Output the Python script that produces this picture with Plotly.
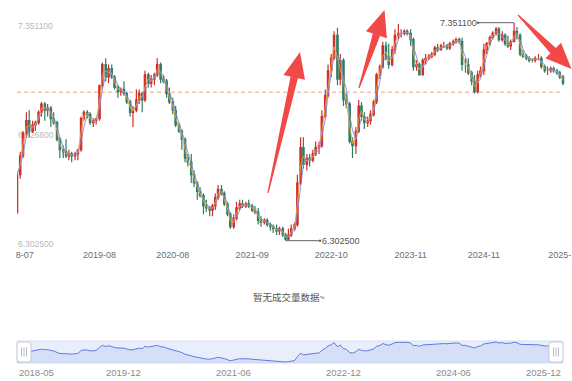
import plotly.graph_objects as go
import pandas as pd

# ---------------- data (semi-monthly OHLC) ----------------
open_2018 = [6.44, 6.62, 6.71, 6.82, 6.88, 6.83, 6.86, 6.87, 6.92, 6.96, 6.93, 6.94, 6.89]
high_2018 = [6.63, 6.73, 6.83, 6.92, 6.93, 6.88, 6.88, 6.93, 6.97, 6.97, 6.96, 6.95, 6.92]
low_2018 = [6.43, 6.60, 6.70, 6.80, 6.80, 6.82, 6.83, 6.86, 6.90, 6.88, 6.90, 6.85, 6.86]
close_2018 = [6.62, 6.71, 6.82, 6.88, 6.83, 6.86, 6.87, 6.92, 6.96, 6.93, 6.94, 6.89, 6.87]

open_2019 = [6.87, 6.79, 6.74, 6.73, 6.71, 6.72, 6.71, 6.72, 6.74, 6.89, 6.92, 6.91, 6.87, 6.88, 6.89, 7.05, 7.15, 7.09, 7.13, 7.09, 7.04, 7.02, 7.03, 7.01]
high_2019 = [6.88, 6.80, 6.76, 6.79, 6.74, 6.73, 6.73, 6.74, 6.90, 6.93, 6.93, 6.92, 6.89, 6.89, 7.05, 7.16, 7.18, 7.15, 7.15, 7.10, 7.05, 7.04, 7.07, 7.02]
low_2019 = [6.78, 6.70, 6.70, 6.70, 6.69, 6.68, 6.69, 6.69, 6.73, 6.88, 6.89, 6.86, 6.85, 6.86, 6.88, 7.03, 7.07, 7.06, 7.08, 7.03, 6.99, 7.00, 7.00, 6.96]
close_2019 = [6.79, 6.74, 6.73, 6.71, 6.72, 6.71, 6.72, 6.74, 6.89, 6.92, 6.91, 6.87, 6.88, 6.89, 7.05, 7.15, 7.09, 7.13, 7.09, 7.04, 7.02, 7.03, 7.01, 6.97]

open_2020 = [6.97, 6.92, 6.93, 6.98, 7.01, 6.98, 7.10, 7.06, 7.08, 7.10, 7.15, 7.08, 7.07, 7.01, 6.97, 6.93, 6.86, 6.83, 6.79, 6.70, 6.68, 6.62, 6.58, 6.54]
high_2020 = [6.98, 6.95, 7.03, 7.03, 7.02, 7.12, 7.11, 7.10, 7.11, 7.18, 7.16, 7.10, 7.08, 7.04, 6.99, 6.95, 6.87, 6.84, 6.80, 6.72, 6.72, 6.64, 6.59, 6.56]
low_2020 = [6.90, 6.85, 6.92, 6.96, 6.92, 6.97, 7.04, 7.04, 7.05, 7.09, 7.06, 7.06, 6.99, 6.96, 6.91, 6.85, 6.82, 6.74, 6.68, 6.66, 6.58, 6.56, 6.50, 6.51]
close_2020 = [6.92, 6.93, 6.98, 7.01, 6.98, 7.10, 7.06, 7.08, 7.10, 7.15, 7.08, 7.07, 7.01, 6.97, 6.93, 6.86, 6.83, 6.79, 6.70, 6.68, 6.62, 6.58, 6.54, 6.52]

open_2021 = [6.52, 6.47, 6.46, 6.45, 6.47, 6.51, 6.55, 6.53, 6.48, 6.43, 6.37, 6.41, 6.46, 6.48, 6.47, 6.48, 6.47, 6.45, 6.44, 6.40, 6.39, 6.40, 6.38, 6.37]
high_2021 = [6.53, 6.50, 6.47, 6.48, 6.53, 6.57, 6.57, 6.54, 6.49, 6.44, 6.43, 6.49, 6.50, 6.50, 6.49, 6.50, 6.48, 6.47, 6.46, 6.42, 6.41, 6.41, 6.39, 6.38]
low_2021 = [6.43, 6.44, 6.42, 6.42, 6.45, 6.50, 6.52, 6.47, 6.42, 6.36, 6.36, 6.40, 6.45, 6.46, 6.46, 6.46, 6.44, 6.43, 6.38, 6.37, 6.38, 6.37, 6.35, 6.34]
close_2021 = [6.47, 6.46, 6.45, 6.47, 6.51, 6.55, 6.53, 6.48, 6.43, 6.37, 6.41, 6.46, 6.48, 6.47, 6.48, 6.47, 6.45, 6.44, 6.40, 6.39, 6.40, 6.38, 6.37, 6.36]

open_2022 = [6.36, 6.35, 6.36, 6.33, 6.31, 6.33, 6.36, 6.38, 6.58, 6.75, 6.67, 6.70, 6.69, 6.72, 6.75, 6.76, 6.90, 7.00, 7.12, 7.18, 7.29, 7.08, 7.17, 6.98]
high_2022 = [6.38, 6.37, 6.37, 6.34, 6.36, 6.38, 6.39, 6.62, 6.80, 6.80, 6.72, 6.72, 6.74, 6.78, 6.78, 6.93, 7.03, 7.15, 7.20, 7.31, 7.327, 7.20, 7.18, 7.01]
low_2022 = [6.33, 6.33, 6.32, 6.3025, 6.305, 6.32, 6.35, 6.37, 6.57, 6.65, 6.64, 6.66, 6.68, 6.71, 6.72, 6.75, 6.89, 6.99, 7.09, 7.17, 7.05, 7.05, 6.95, 6.94]
close_2022 = [6.35, 6.36, 6.33, 6.31, 6.33, 6.36, 6.38, 6.58, 6.75, 6.67, 6.70, 6.69, 6.72, 6.75, 6.76, 6.90, 7.00, 7.12, 7.18, 7.29, 7.08, 7.17, 6.98, 6.96]

open_2023 = [6.96, 6.78, 6.76, 6.83, 6.95, 6.90, 6.87, 6.88, 6.91, 6.97, 7.10, 7.14, 7.24, 7.18, 7.15, 7.22, 7.29, 7.30, 7.30, 7.31, 7.30, 7.27, 7.14, 7.15]
high_2023 = [6.97, 6.80, 6.85, 6.98, 6.97, 6.92, 6.90, 6.93, 6.98, 7.11, 7.15, 7.26, 7.26, 7.25, 7.24, 7.32, 7.345, 7.32, 7.32, 7.32, 7.32, 7.28, 7.17, 7.16]
low_2023 = [6.77, 6.70, 6.72, 6.82, 6.88, 6.84, 6.85, 6.86, 6.90, 6.96, 7.08, 7.13, 7.17, 7.13, 7.14, 7.20, 7.27, 7.28, 7.29, 7.29, 7.24, 7.12, 7.12, 7.10]
close_2023 = [6.78, 6.76, 6.83, 6.95, 6.90, 6.87, 6.88, 6.91, 6.97, 7.10, 7.14, 7.24, 7.18, 7.15, 7.22, 7.29, 7.30, 7.30, 7.31, 7.30, 7.27, 7.14, 7.15, 7.10]

open_2024 = [7.10, 7.17, 7.18, 7.19, 7.20, 7.23, 7.22, 7.24, 7.24, 7.23, 7.25, 7.26, 7.27, 7.26, 7.15, 7.15, 7.11, 7.07, 7.02, 7.10, 7.12, 7.22, 7.25, 7.28]
high_2024 = [7.18, 7.20, 7.20, 7.21, 7.24, 7.25, 7.25, 7.26, 7.25, 7.26, 7.27, 7.28, 7.28, 7.28, 7.18, 7.18, 7.12, 7.10, 7.12, 7.14, 7.25, 7.26, 7.29, 7.31]
low_2024 = [7.10, 7.15, 7.17, 7.18, 7.19, 7.21, 7.22, 7.23, 7.22, 7.22, 7.24, 7.25, 7.25, 7.12, 7.11, 7.10, 7.05, 7.0106, 7.01, 7.09, 7.10, 7.20, 7.24, 7.27]
close_2024 = [7.17, 7.18, 7.19, 7.20, 7.23, 7.22, 7.24, 7.24, 7.23, 7.25, 7.26, 7.27, 7.26, 7.15, 7.15, 7.11, 7.07, 7.02, 7.10, 7.12, 7.22, 7.25, 7.28, 7.30]

open_2025 = [7.30, 7.32, 7.27, 7.29, 7.25, 7.24, 7.26, 7.31, 7.29, 7.20, 7.19, 7.18, 7.17, 7.17, 7.18, 7.18, 7.14, 7.12, 7.12, 7.13, 7.12, 7.11, 7.09]
high_2025 = [7.33, 7.33, 7.31, 7.30, 7.29, 7.27, 7.3511, 7.33, 7.30, 7.22, 7.20, 7.19, 7.18, 7.19, 7.20, 7.19, 7.15, 7.14, 7.14, 7.14, 7.13, 7.12, 7.10]
low_2025 = [7.29, 7.26, 7.26, 7.24, 7.23, 7.22, 7.26, 7.27, 7.19, 7.18, 7.17, 7.16, 7.16, 7.16, 7.17, 7.13, 7.11, 7.10, 7.11, 7.11, 7.10, 7.08, 7.05]
close_2025 = [7.32, 7.27, 7.29, 7.25, 7.24, 7.26, 7.31, 7.29, 7.20, 7.19, 7.18, 7.17, 7.17, 7.18, 7.18, 7.14, 7.12, 7.12, 7.13, 7.12, 7.11, 7.09, 7.06]

ref_level = 7.017  # dashed reference line

x_tickvals = ["2018-07-24", "2019-08-01", "2020-08-01", "2021-09-01", "2022-10-01",
              "2023-11-01", "2024-11-01", "2025-12-10"]
x_ticktext = ["8-07", "2019-08", "2020-08", "2021-09", "2022-10", "2023-11", "2024-11", "2025-12"]
zoom_tickvals = ["2019-12-01", "2021-06-01", "2022-12-01", "2024-06-01"]
zoom_ticktext = ["2019-12", "2021-06", "2022-12", "2024-06"]
zoom_first_label = "2018-05"
zoom_last_label = "2025-12"
volume_msg = "暂无成交量数据~"

# ---------------- assemble ----------------
opens = open_2018 + open_2019 + open_2020 + open_2021 + open_2022 + open_2023 + open_2024 + open_2025
highs = high_2018 + high_2019 + high_2020 + high_2021 + high_2022 + high_2023 + high_2024 + high_2025
lows = low_2018 + low_2019 + low_2020 + low_2021 + low_2022 + low_2023 + low_2024 + low_2025
closes = close_2018 + close_2019 + close_2020 + close_2021 + close_2022 + close_2023 + close_2024 + close_2025
dates = pd.date_range("2018-06-15", "2025-12-01", freq="SMS")
assert len(dates) == len(opens) == len(highs) == len(lows) == len(closes)

s_close = pd.Series(closes)
ma_fast = s_close.rolling(2, min_periods=1).mean()
ma_slow = s_close.rolling(3, min_periods=1).mean()

W, H = 572, 381
L, R = 17, 6
PW = W - L - R


def px(x):
    return (x - L) / PW


def py(y):
    return 1 - y / H


y_max = max(highs)
y_min = min(lows)
y_mid = (y_max + y_min) / 2
i_max = highs.index(y_max)
i_min = lows.index(y_min)

fig = go.Figure()

fig.add_trace(go.Candlestick(
    x=dates, open=opens, high=highs, low=lows, close=closes,
    increasing=dict(line=dict(color="#cf2f2b", width=1.2), fillcolor="#cf2f2b"),
    decreasing=dict(line=dict(color="#2f7d62", width=1.2), fillcolor="#2f7d62"),
    whiskerwidth=0, hoverinfo="skip", showlegend=False,
))
fig.add_trace(go.Scatter(x=dates, y=ma_fast, mode="lines",
                         line=dict(color="#f2a33a", width=0.9), hoverinfo="skip", showlegend=False))
fig.add_trace(go.Scatter(x=dates, y=ma_slow, mode="lines",
                         line=dict(color="#7c8de0", width=0.9), hoverinfo="skip", showlegend=False))

# slider (data zoom) line
fig.add_trace(go.Scatter(x=dates, y=closes, xaxis="x2", yaxis="y2", mode="lines",
                         line=dict(color="#5f7be0", width=1),
                         fill="tozeroy", fillcolor="rgba(95,123,224,0.13)",
                         hoverinfo="skip", showlegend=False))

shapes = []
# dashed reference line
shapes.append(dict(type="line", xref="x", yref="y", x0=dates[0], x1=dates[-1],
                   y0=ref_level, y1=ref_level, layer="below",
                   line=dict(color="#f0a482", width=1, dash="4px,3px")))

# slider box
shapes.append(dict(type="rect", xref="paper", yref="paper", x0=px(17), x1=px(563),
                   y0=py(363), y1=py(341), layer="below",
                   fillcolor="#e9eefc", line=dict(color="#d6def2", width=1)))


def rounded_rect(x0, y0, x1, y1, r):
    pts = [
        ("M", x0 + r, y0), ("L", x1 - r, y0), ("Q", x1, y0, x1, y0 + r),
        ("L", x1, y1 - r), ("Q", x1, y1, x1 - r, y1), ("L", x0 + r, y1),
        ("Q", x0, y1, x0, y1 - r), ("L", x0, y0 + r), ("Q", x0, y0, x0 + r, y0),
    ]
    out = []
    for p in pts:
        if p[0] == "Q":
            out.append(f"Q{px(p[1]):.5f},{py(p[2]):.5f} {px(p[3]):.5f},{py(p[4]):.5f}")
        else:
            out.append(f"{p[0]}{px(p[1]):.5f},{py(p[2]):.5f}")
    return " ".join(out) + " Z"


for hx0 in (17, 549):
    shapes.append(dict(type="path", xref="paper", yref="paper",
                       path=rounded_rect(hx0, 342, hx0 + 14, 362, 3),
                       fillcolor="#ffffff", line=dict(color="#c9ccd4", width=1), layer="above"))
    for gx in (hx0 + 4.5, hx0 + 7, hx0 + 9.5):
        shapes.append(dict(type="line", xref="paper", yref="paper",
                           x0=px(gx), x1=px(gx), y0=py(347.5), y1=py(356.5),
                           line=dict(color="#b9bcc6", width=1), layer="above"))


def arrow_path(tail, tip, w_tail, w_base, head_w, head_len):
    tx, ty = tail
    hx, hy = tip
    dx, dy = hx - tx, hy - ty
    ln = (dx * dx + dy * dy) ** 0.5
    ux, uy = dx / ln, dy / ln
    nx, ny = -uy, ux
    bx, by = hx - ux * head_len, hy - uy * head_len
    pts = [
        (tx + nx * w_tail / 2, ty + ny * w_tail / 2),
        (bx + nx * w_base / 2, by + ny * w_base / 2),
        (bx + nx * head_w / 2, by + ny * head_w / 2),
        (hx, hy),
        (bx - nx * head_w / 2, by - ny * head_w / 2),
        (bx - nx * w_base / 2, by - ny * w_base / 2),
        (tx - nx * w_tail / 2, ty - ny * w_tail / 2),
    ]
    s = "M" + " L".join(f"{px(a):.5f},{py(b):.5f}" for a, b in pts) + " Z"
    return s


for tail, tip in [((268, 193), (300, 52)), ((359, 88), (384.5, 10)), ((518, 15), (571.5, 69))]:
    shapes.append(dict(type="path", xref="paper", yref="paper",
                       path=arrow_path(tail, tip, 1.2, 7.5, 22, 26),
                       fillcolor="#f24848", line=dict(width=0), layer="above"))

annotations = []
# max / min markers
annotations.append(dict(x=dates[i_max], y=y_max, xref="x", yref="y", text=f"{y_max:.6f}",
                        showarrow=True, ax=-56, ay=0, arrowside="start", startarrowhead=6,
                        startarrowsize=0.6, arrowwidth=1, arrowcolor="#666666",
                        font=dict(size=9, color="#555555")))
annotations.append(dict(x=dates[i_min], y=y_min, xref="x", yref="y", text=f"{y_min:.6f}",
                        showarrow=True, ax=55, ay=0, arrowside="start", startarrowhead=6,
                        startarrowsize=0.6, arrowwidth=1, arrowcolor="#666666",
                        font=dict(size=9, color="#555555")))
# no-volume message
annotations.append(dict(x=px(289), y=py(297), xref="paper", yref="paper", text=volume_msg,
                        showarrow=False, yanchor="middle",
                        font=dict(size=9.5, color="#555555", family="Noto Sans CJK SC")))
# slider labels
lab_font = dict(size=9.5, color="#8a8a8a")
annotations.append(dict(x=dates[0], y=py(372), xref="x2", yref="paper", text=zoom_first_label,
                        xanchor="left", yanchor="middle", showarrow=False, font=lab_font))
annotations.append(dict(x=dates[-1], y=py(372), xref="x2", yref="paper", text=zoom_last_label,
                        xanchor="right", yanchor="middle", showarrow=False, font=lab_font))
for v, t in zip(zoom_tickvals, zoom_ticktext):
    annotations.append(dict(x=v, y=py(372), xref="x2", yref="paper", text=t,
                            xanchor="center", yanchor="middle", showarrow=False, font=lab_font))

fig.update_layout(
    width=W, height=H,
    margin=dict(l=L, r=R, t=0, b=0, autoexpand=False),
    paper_bgcolor="white", plot_bgcolor="white",
    font=dict(family="Liberation Sans, Arial, sans-serif", size=9, color="#666666"),
    showlegend=False,
    xaxis=dict(type="date", domain=[0, 1], anchor="y",
               range=[dates[0], dates[-1] + pd.Timedelta(days=15)],
               rangeslider=dict(visible=False),
               showgrid=False, zeroline=False, showline=False, ticks="",
               tickvals=x_tickvals, ticktext=x_ticktext,
               tickfont=dict(size=9, color="#6e6e6e"),
               ticklabeloverflow="allow", ticklabelstandoff=7),
    yaxis=dict(domain=[py(240.7), py(22.7)], anchor="x",
               range=[y_min, y_max], showgrid=False, zeroline=False, showline=False,
               ticks="", tickvals=[y_min, y_mid, y_max],
               ticktext=[f"{v:.6f}" for v in (y_min, y_mid, y_max)],
               ticklabelposition="inside", ticklabeloverflow="allow",
               ticklabelshift=3, ticklabelstandoff=-2, layer="below traces",
               tickfont=dict(size=8.5, color="#b8b8b8")),
    xaxis2=dict(type="date", domain=[0, px(563)], anchor="y2",
                range=[dates[0], dates[-1]], visible=False),
    yaxis2=dict(domain=[py(363), py(341)], anchor="x2",
                range=[min(closes) - 0.05, max(closes) + 0.05], visible=False),
    shapes=shapes,
    annotations=annotations,
)

fig.write_html("out.html")
